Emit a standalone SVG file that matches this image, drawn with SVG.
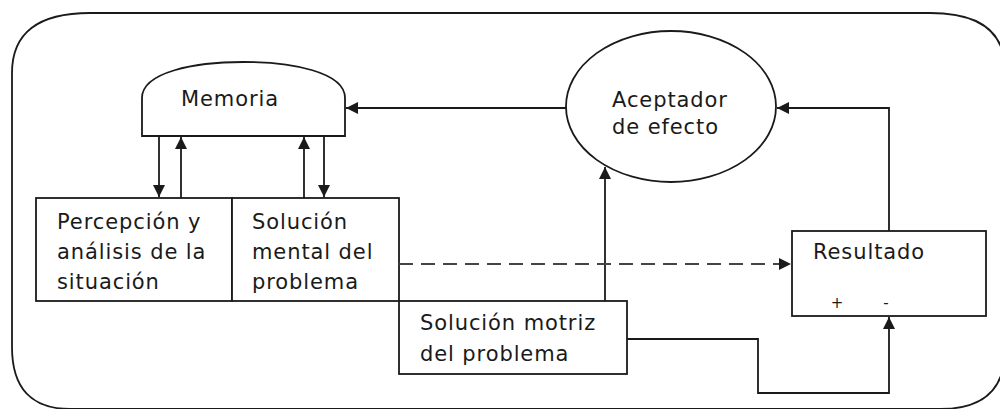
<svg xmlns="http://www.w3.org/2000/svg" width="1000" height="409" viewBox="0 0 1000 409">
<style>
.s{fill:none;stroke:#1a1a1a;stroke-width:1.8}
.b{fill:#fff;stroke:#1a1a1a;stroke-width:1.8}
.t{font-family:"DejaVu Sans",sans-serif;font-size:21px;fill:#1a1a1a;letter-spacing:0.9px}
.sm{font-family:"DejaVu Sans",sans-serif;font-size:15px;fill:#1a1a1a}
.c{fill:none;stroke:#1a1a1a;stroke-width:1.8}
.d{fill:none;stroke:#444;stroke-width:1.8;stroke-dasharray:14 8}
</style>
<defs>
<marker id="ah" viewBox="0 0 12 12" refX="12" refY="6" markerWidth="12" markerHeight="12" markerUnits="userSpaceOnUse" orient="auto">
<path d="M0,0 L12,6 L0,12 Z" fill="#1a1a1a"/>
</marker>
</defs>
<g id="frame">
<path class="s" d="M12,73 Q12,13 90,13 L930,13 Q1005,13 1005,70 L1005,350 Q1005,409 940,409 L70,409 Q12,409 12,347 Z"/>
</g>
<g id="memoria">
<path class="b" d="M142,136 L142,98 C142,72 195,62 243,62 C292,62 345,72 345,98 L345,136 Z"/>
<text class="t" x="181" y="106">Memoria</text>
</g>
<g id="aceptador">
<ellipse class="b" cx="671" cy="106.5" rx="105" ry="75.5"/>
<text class="t" x="612" y="107">Aceptador</text>
<text class="t" x="612" y="134">de efecto</text>
</g>
<g id="percepcion">
<rect class="b" x="36" y="198" width="196" height="103"/>
<text class="t" x="57" y="229">Percepción y</text>
<text class="t" x="57" y="259">análisis de la</text>
<text class="t" x="57" y="289">situación</text>
</g>
<g id="solucion-mental">
<rect class="b" x="232" y="198" width="167" height="103"/>
<text class="t" x="252" y="229">Solución</text>
<text class="t" x="252" y="259">mental del</text>
<text class="t" x="252" y="289">problema</text>
</g>
<g id="solucion-motriz">
<rect class="b" x="399" y="301" width="228" height="73"/>
<text class="t" x="420" y="330">Solución motriz</text>
<text class="t" x="420" y="361">del problema</text>
</g>
<g id="resultado">
<rect class="b" x="792" y="231" width="194" height="85"/>
<text class="t" x="813" y="259">Resultado</text>
<text class="sm" x="837" y="308" text-anchor="middle">+</text>
<text class="sm" x="886" y="308" text-anchor="middle">-</text>
</g>
<g id="connectors">
<line class="c" x1="566" y1="108" x2="346" y2="108" marker-end="url(#ah)"/>
<path class="c" d="M889,231 L889,108 L777,108" marker-end="url(#ah)"/>
<line class="c" x1="605" y1="301" x2="605" y2="167" marker-end="url(#ah)"/>
<path class="c" d="M627,339 L758,339 L758,393 L889,393 L889,317" marker-end="url(#ah)"/>
<line class="d" x1="399" y1="264" x2="791" y2="264" marker-end="url(#ah)"/>
<line class="c" x1="159" y1="136" x2="159" y2="197" marker-end="url(#ah)"/>
<line class="c" x1="181" y1="198" x2="181" y2="137" marker-end="url(#ah)"/>
<line class="c" x1="304" y1="198" x2="304" y2="137" marker-end="url(#ah)"/>
<line class="c" x1="324" y1="136" x2="324" y2="197" marker-end="url(#ah)"/>
</g>
</svg>
